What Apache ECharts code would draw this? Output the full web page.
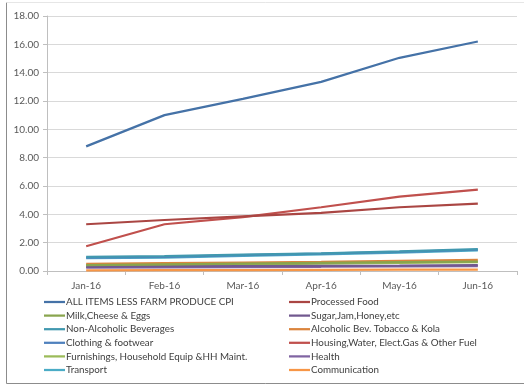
<!DOCTYPE html>
<html>
<head>
<meta charset="utf-8">
<script src="https://cdn.jsdelivr.net/npm/echarts@6/dist/echarts.min.js"></script>
<style>
  html, body { margin: 0; padding: 0; background: #fff; }
  #chart { width: 524px; height: 385px; }
</style>
</head>
<body>
<div id="chart"></div>
<script>
// Month categories on the x axis
var months = ['Jan-16', 'Feb-16', 'Mar-16', 'Apr-16', 'May-16', 'Jun-16'];

// Y-axis range and step
var yMin = 0, yMax = 18, yStep = 2;

// Series names, in legend order (left column then right column, row by row)
var seriesNames = [
  'ALL ITEMS LESS FARM PRODUCE CPI',
  'Processed Food',
  'Milk,Cheese & Eggs',
  'Sugar,Jam,Honey,etc',
  'Non-Alcoholic Beverages',
  'Alcoholic Bev. Tobacco & Kola',
  'Clothing & footwear',
  'Housing,Water, Elect.Gas & Other Fuel',
  'Furnishings, Household Equip &HH Maint.',
  'Health',
  'Transport',
  'Communication'
];

// Values per series
var allItems      = [8.80, 11.00, 12.15, 13.35, 15.05, 16.20];
var processedFood = [3.30, 3.60, 3.85, 4.10, 4.50, 4.75];
var milkCheese    = [0.42, 0.47, 0.52, 0.57, 0.62, 0.67];
var sugarJam      = [0.30, 0.32, 0.34, 0.36, 0.38, 0.42];
var nonAlcoholic  = [1.00, 1.05, 1.15, 1.25, 1.38, 1.55];
var alcoholicBev  = [0.50, 0.55, 0.60, 0.65, 0.72, 0.78];
var clothing      = [0.95, 1.00, 1.12, 1.22, 1.35, 1.50];
var housing       = [1.75, 3.30, 3.80, 4.50, 5.25, 5.75];
var furnishings   = [0.38, 0.42, 0.47, 0.52, 0.57, 0.62];
var health        = [0.24, 0.26, 0.28, 0.30, 0.33, 0.35];
var transport     = [0.90, 0.95, 1.07, 1.17, 1.30, 1.45];
var communication = [0.05, 0.06, 0.07, 0.08, 0.09, 0.10];

var seriesValues = [
  allItems, processedFood, milkCheese, sugarJam, nonAlcoholic, alcoholicBev,
  clothing, housing, furnishings, health, transport, communication
];

var seriesColors = [
  '#4572A7', '#AA4643', '#89A54E', '#71588F', '#4198AF', '#DB843D',
  '#4F81BD', '#C0504D', '#9BBB59', '#8064A2', '#4BACC6', '#F79646'
];

var textFont = 'Lato';
var textColor = '#404040';

var series = seriesNames.map(function (name, i) {
  return {
    name: name,
    type: 'line',
    data: seriesValues[i],
    symbol: 'none',
    lineStyle: { width: 2.25, color: seriesColors[i] },
    itemStyle: { color: seriesColors[i] },
    z: 20 - i
  };
});

var leftNames = seriesNames.filter(function (n, i) { return i % 2 === 0; });
var rightNames = seriesNames.filter(function (n, i) { return i % 2 === 1; });

function legendAt(left, names) {
  return {
    data: names,
    orient: 'vertical',
    left: left,
    top: 297,
    icon: 'rect',
    itemWidth: 21,
    itemHeight: 2.25,
    itemGap: 3.6,
    padding: 0,
    textStyle: {
      fontFamily: textFont, fontSize: 9.8, lineHeight: 10, color: textColor,
      padding: [0, 0, 0, -4]
    }
  };
}

var chart = echarts.init(document.getElementById('chart'), null, { renderer: 'canvas' });
chart.setOption({
  animation: false,
  backgroundColor: '#ffffff',
  grid: { left: 47, right: 7, top: 16, bottom: 114 },
  legend: [legendAt(44, leftNames), legendAt(289, rightNames)],
  xAxis: {
    type: 'category',
    data: months,
    boundaryGap: true,
    axisLine: { lineStyle: { color: '#BFBFBF', width: 1 } },
    axisTick: { show: true, length: 4, lineStyle: { color: '#BFBFBF' } },
    axisLabel: { fontFamily: textFont, fontSize: 10, color: '#595959', margin: 10 },
    splitLine: { show: false }
  },
  yAxis: {
    type: 'value',
    min: yMin, max: yMax, interval: yStep,
    axisLine: { show: true, lineStyle: { color: '#BFBFBF', width: 1 } },
    axisTick: { show: true, length: 4, lineStyle: { color: '#BFBFBF' } },
    axisLabel: {
      fontFamily: textFont, fontSize: 10, color: '#595959', margin: 8,
      formatter: function (v) { return v.toFixed(2); }
    },
    splitLine: { lineStyle: { color: '#D9D9D9', width: 1 } }
  },
  graphic: [
    { type: 'line', shape: { x1: 6.5, y1: 2.5, x2: 6.5, y2: 383.5 }, style: { stroke: '#8C8C8C', lineWidth: 1 } },
    { type: 'line', shape: { x1: 6.5, y1: 383.5, x2: 524, y2: 383.5 }, style: { stroke: '#8C8C8C', lineWidth: 1 } },
    { type: 'line', shape: { x1: 6.5, y1: 2.5, x2: 524, y2: 2.5 }, style: { stroke: '#E6E6E6', lineWidth: 1 } }
  ],
  series: series
});
</script>
</body>
</html>
